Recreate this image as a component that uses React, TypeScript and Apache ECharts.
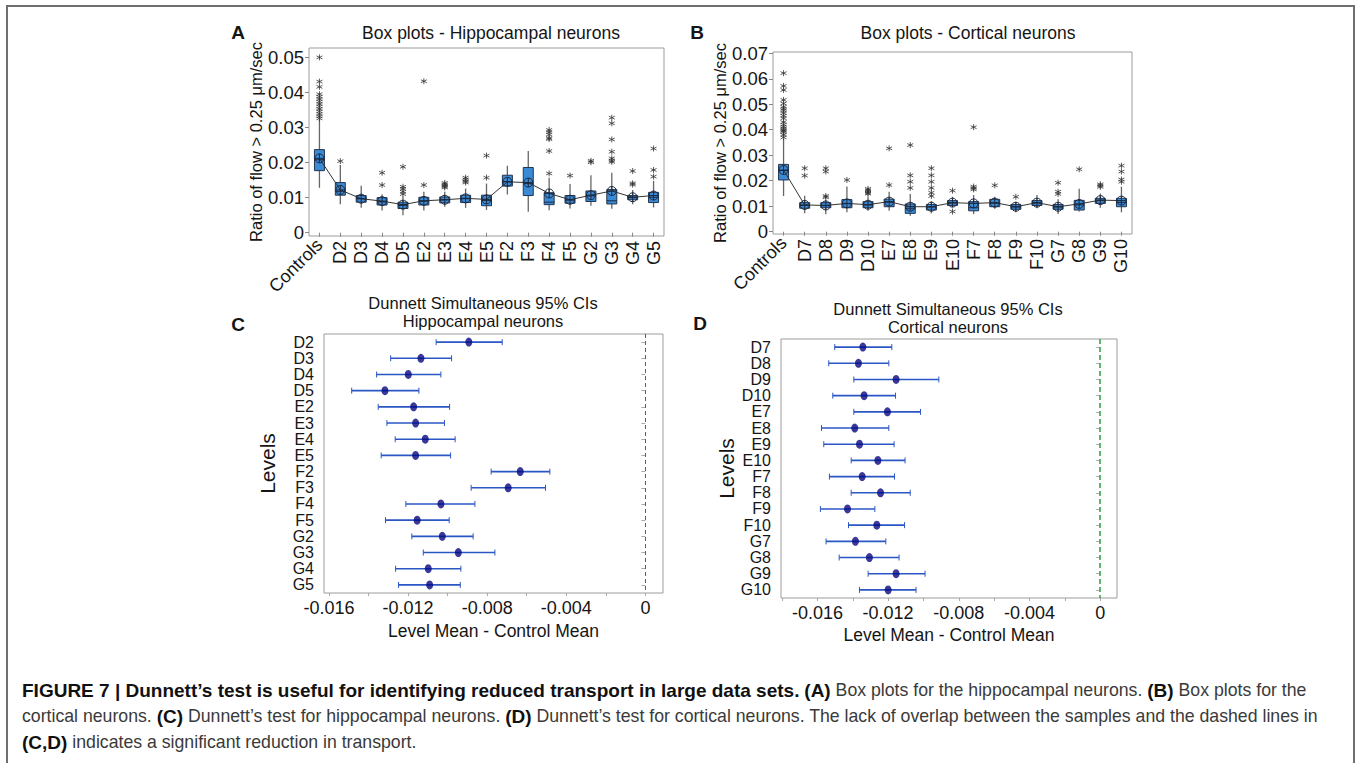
import React, { useEffect, useRef } from 'react';
import * as echarts from 'echarts';

// ---------- Panel A: hippocampal box plots ----------
const catsA = ['Controls', 'D2', 'D3', 'D4', 'D5', 'E2', 'E3', 'E4', 'E5', 'F2', 'F3', 'F4', 'F5', 'G2', 'G3', 'G4', 'G5'];
// [min, q1, median, q3, max]
const statsA = [
  [0.0128, 0.0177, 0.0208, 0.0237, 0.0322],
  [0.0081, 0.0107, 0.0118, 0.0143, 0.0193],
  [0.0071, 0.0087, 0.0097, 0.0106, 0.0134],
  [0.0063, 0.0079, 0.0088, 0.0100, 0.0110],
  [0.0050, 0.0069, 0.0078, 0.0087, 0.0103],
  [0.0063, 0.0079, 0.0090, 0.0101, 0.0117],
  [0.0074, 0.0085, 0.0094, 0.0102, 0.0117],
  [0.0071, 0.0086, 0.0097, 0.0107, 0.0126],
  [0.0065, 0.0077, 0.0092, 0.0107, 0.0140],
  [0.0109, 0.0133, 0.0146, 0.0164, 0.0191],
  [0.0060, 0.0106, 0.0140, 0.0186, 0.0233],
  [0.0064, 0.0080, 0.0087, 0.0114, 0.0157],
  [0.0069, 0.0084, 0.0093, 0.0106, 0.0139],
  [0.0077, 0.0089, 0.0105, 0.0119, 0.0164],
  [0.0068, 0.0082, 0.0091, 0.0123, 0.0171],
  [0.0081, 0.0094, 0.0100, 0.0106, 0.0122],
  [0.0072, 0.0086, 0.0101, 0.0115, 0.0148],
];
const meansA = [0.0212, 0.0122, 0.0097, 0.0090, 0.0080, 0.0091, 0.0094, 0.0098, 0.0095, 0.0145, 0.0143, 0.0112, 0.0094, 0.0107, 0.0119, 0.0101, 0.0106];
const outliersA = [
  [0.050, 0.0431, 0.0416, 0.0395, 0.0388, 0.0381, 0.0374, 0.0367, 0.036, 0.0353, 0.0346, 0.0339, 0.0332, 0.0326],
  [0.0204],
  [],
  [0.0171, 0.0136],
  [0.0188, 0.0131, 0.0125, 0.0117, 0.011],
  [0.0432, 0.0136],
  [0.0142, 0.0138, 0.0135, 0.0132, 0.0129],
  [0.0157, 0.0152, 0.0147, 0.0143],
  [0.022, 0.0157],
  [],
  [],
  [0.0293, 0.0287, 0.028, 0.027, 0.0267, 0.0233, 0.0169],
  [0.0163],
  [0.0205, 0.0201],
  [0.0328, 0.0312, 0.0266, 0.0231, 0.0212, 0.0206, 0.0202],
  [0.0176, 0.0141, 0.0137],
  [0.024, 0.0179, 0.016],
];
const ticksA = [0, 0.01, 0.02, 0.03, 0.04, 0.05];

// ---------- Panel B: cortical box plots ----------
const catsB = ['Controls', 'D7', 'D8', 'D9', 'D10', 'E7', 'E8', 'E9', 'E10', 'F7', 'F8', 'F9', 'F10', 'G7', 'G8', 'G9', 'G10'];
const statsB = [
  [0.0140, 0.0203, 0.0240, 0.0264, 0.0363],
  [0.0072, 0.0092, 0.0103, 0.0114, 0.0141],
  [0.0068, 0.0094, 0.0102, 0.0114, 0.0124],
  [0.0076, 0.0094, 0.0110, 0.0126, 0.0177],
  [0.0082, 0.0094, 0.0105, 0.0118, 0.0137],
  [0.0082, 0.0098, 0.0116, 0.0128, 0.0157],
  [0.0063, 0.0072, 0.0090, 0.0109, 0.0148],
  [0.0072, 0.0085, 0.0097, 0.0107, 0.0120],
  [0.0098, 0.0103, 0.0113, 0.0122, 0.0137],
  [0.0069, 0.0082, 0.0094, 0.0118, 0.0144],
  [0.0090, 0.0098, 0.0112, 0.0127, 0.0137],
  [0.0076, 0.0088, 0.0097, 0.0107, 0.0118],
  [0.0092, 0.0103, 0.0113, 0.0122, 0.0144],
  [0.0069, 0.0088, 0.0097, 0.0107, 0.0127],
  [0.0079, 0.0085, 0.0105, 0.0123, 0.0169],
  [0.0094, 0.0111, 0.0122, 0.0131, 0.0150],
  [0.0076, 0.0098, 0.0115, 0.0131, 0.0177],
];
const meansB = [0.0242, 0.0105, 0.0103, 0.0111, 0.0106, 0.0118, 0.0098, 0.0098, 0.0114, 0.0111, 0.0114, 0.0098, 0.0114, 0.0098, 0.0109, 0.0124, 0.0122];
const outliersB = [
  [0.0622, 0.0572, 0.0556, 0.0517, 0.0503, 0.049, 0.0482, 0.0475, 0.0465, 0.0455, 0.0445, 0.043, 0.042, 0.0412, 0.0405, 0.04, 0.0395, 0.039, 0.038, 0.037],
  [0.0249, 0.022],
  [0.0249, 0.0236, 0.014, 0.0135],
  [0.0203],
  [0.0168, 0.0163, 0.0158, 0.0153, 0.0149],
  [0.0327, 0.0183],
  [0.034, 0.0221, 0.0196, 0.0172],
  [0.0249, 0.0221, 0.0196, 0.0172, 0.0153, 0.014],
  [0.0161, 0.0079],
  [0.041, 0.0177, 0.0171, 0.0166],
  [0.0182],
  [0.0137],
  [],
  [0.0192, 0.0157, 0.0148],
  [0.0245],
  [0.0186, 0.0181, 0.0176],
  [0.0259, 0.0236, 0.0205, 0.0196],
];
const ticksB = [0, 0.01, 0.02, 0.03, 0.04, 0.05, 0.06, 0.07];

// ---------- Panel C: Dunnett hippocampal ----------
const levelsC = ['D2', 'D3', 'D4', 'D5', 'E2', 'E3', 'E4', 'E5', 'F2', 'F3', 'F4', 'F5', 'G2', 'G3', 'G4', 'G5'];
const meanC = [-0.00893, -0.01135, -0.01199, -0.01317, -0.01172, -0.01162, -0.01113, -0.01162, -0.00633, -0.00694, -0.01034, -0.01154, -0.01027, -0.00946, -0.01098, -0.01091];
const lowC = [-0.01058, -0.01288, -0.01359, -0.01485, -0.01351, -0.01307, -0.01265, -0.01336, -0.0078, -0.00881, -0.01211, -0.01314, -0.01181, -0.01123, -0.01263, -0.01248];
const highC = [-0.00724, -0.0098, -0.01034, -0.01145, -0.0099, -0.01016, -0.00962, -0.00985, -0.00483, -0.00505, -0.00862, -0.00992, -0.00871, -0.00761, -0.00933, -0.00936];

// ---------- Panel D: Dunnett cortical ----------
const levelsD = ['D7', 'D8', 'D9', 'D10', 'E7', 'E8', 'E9', 'E10', 'F7', 'F8', 'F9', 'F10', 'G7', 'G8', 'G9', 'G10'];
const meanD = [-0.01343, -0.01368, -0.01155, -0.01336, -0.01204, -0.01389, -0.01362, -0.01258, -0.01347, -0.01243, -0.0143, -0.01264, -0.01385, -0.01306, -0.01155, -0.012];
const lowD = [-0.01502, -0.01536, -0.01394, -0.01513, -0.01394, -0.01577, -0.01564, -0.01409, -0.01532, -0.01409, -0.01583, -0.01424, -0.01551, -0.01477, -0.01313, -0.01362];
const highD = [-0.01179, -0.01196, -0.00913, -0.01158, -0.01017, -0.01196, -0.01166, -0.01104, -0.01164, -0.01075, -0.01275, -0.01107, -0.01213, -0.01138, -0.00991, -0.01042];

const dunnettLabels = [-0.016, -0.012, -0.008, -0.004, 0];
const dunnettTicks = [-0.018, -0.016, -0.014, -0.012, -0.01, -0.008, -0.006, -0.004, -0.002, 0];

const FONT = '"Liberation Sans", Arial, Helvetica, sans-serif';
const TXT = '#151515';
const MEAN_SYMBOL = 'path://M-10,0A10,10,0,1,0,10,0A10,10,0,1,0,-10,0ZM-10,0L10,0M0,-10L0,10';
const STAR_SYMBOL = 'path://M0,-10L0,10M-8.66,-5L8.66,5M-8.66,5L8.66,-5';

function boxRender(_params: any, api: any) {
  const x = api.value(0);
  const lo = api.coord([x, api.value(1)]);
  const q1 = api.coord([x, api.value(2)]);
  const md = api.coord([x, api.value(3)]);
  const q3 = api.coord([x, api.value(4)]);
  const hi = api.coord([x, api.value(5)]);
  const w = 10;
  return {
    type: 'group',
    children: [
      { type: 'line', shape: { x1: lo[0], y1: lo[1], x2: hi[0], y2: hi[1] }, style: { stroke: '#666', lineWidth: 1.3 } },
      { type: 'rect', shape: { x: q3[0] - w / 2, y: q3[1], width: w, height: q1[1] - q3[1] }, style: { fill: '#3b8ad6', stroke: '#22344f', lineWidth: 1 } },
      { type: 'line', shape: { x1: md[0] - w / 2, y1: md[1], x2: md[0] + w / 2, y2: md[1] }, style: { stroke: '#1b2a42', lineWidth: 1 } },
    ],
  };
}

function ciRender(_params: any, api: any) {
  const yv = api.value(1);
  const a = api.coord([api.value(0), yv]);
  const b = api.coord([api.value(2), yv]);
  const c = 3;
  const st = { stroke: '#2b57c4', lineWidth: 1.6 };
  return {
    type: 'group',
    children: [
      { type: 'line', shape: { x1: a[0], y1: a[1], x2: b[0], y2: b[1] }, style: st },
      { type: 'line', shape: { x1: a[0], y1: a[1] - c, x2: a[0], y2: a[1] + c }, style: { stroke: '#2b57c4', lineWidth: 1 } },
      { type: 'line', shape: { x1: b[0], y1: b[1] - c, x2: b[0], y2: b[1] + c }, style: { stroke: '#2b57c4', lineWidth: 1 } },
    ],
  };
}

const fmt2 = (v: number) => (Math.abs(v) < 1e-9 ? '0' : v.toFixed(2));
const fmt3 = (v: number) => (Math.abs(v) < 1e-9 ? '0' : v.toFixed(3));

function catXAxis(grid: number, data: string[], overlay: boolean) {
  return {
    type: 'category',
    gridIndex: grid,
    data,
    position: 'bottom',
    boundaryGap: true,
    axisLine: { show: false },
    axisTick: overlay ? { show: false } : { show: true, alignWithLabel: true, length: 4, lineStyle: { color: '#888' } },
    splitLine: { show: false },
    axisLabel: {
      interval: 0,
      rotate: overlay ? 45 : 90,
      fontSize: 18,
      fontFamily: FONT,
      color: TXT,
      margin: overlay ? 6 : 5,
      formatter: overlay ? (v: string) => (v === 'Controls' ? v : '') : (v: string) => (v === 'Controls' ? '' : v),
    },
  };
}

function valYAxis(grid: number, min: number, max: number, ticks: number[], gap: number) {
  return {
    type: 'value',
    gridIndex: grid,
    min,
    max,
    axisLine: { show: false },
    splitLine: { show: false },
    axisTick: { show: true, customValues: ticks, length: 4, lineStyle: { color: '#888' } },
    axisLabel: { customValues: ticks, formatter: fmt2, fontSize: 18.5, fontFamily: FONT, color: TXT, margin: 5 },
    name: 'Ratio of flow > 0.25 μm/sec',
    nameLocation: 'middle',
    nameGap: gap,
    nameTextStyle: { fontSize: 16.5, fontFamily: FONT, color: TXT },
  };
}

function dunnettXAxis(grid: number, min: number, max: number, gap: number) {
  return {
    type: 'value',
    gridIndex: grid,
    min,
    max,
    axisLine: { show: false },
    splitLine: { show: false },
    axisTick: { show: true, customValues: dunnettTicks.filter((t) => t >= min), length: 3, lineStyle: { color: '#aaa' } },
    axisLabel: { customValues: dunnettLabels, formatter: fmt3, fontSize: 18, fontFamily: FONT, color: TXT, margin: 6 },
    name: 'Level Mean - Control Mean',
    nameLocation: 'middle',
    nameGap: gap,
    nameTextStyle: { fontSize: 17.5, fontFamily: FONT, color: TXT },
  };
}

function levelsYAxis(grid: number, data: string[], gap: number) {
  return {
    type: 'category',
    gridIndex: grid,
    data,
    inverse: true,
    boundaryGap: true,
    axisLine: { show: false },
    axisTick: { show: true, alignWithLabel: true, length: 4, lineStyle: { color: '#aaa' } },
    splitLine: { show: false },
    axisLabel: { interval: 0, fontSize: 16, lineHeight: 16, fontFamily: FONT, color: TXT, margin: 10 },
    name: 'Levels',
    nameLocation: 'middle',
    nameGap: gap,
    nameTextStyle: { fontSize: 21, fontFamily: FONT, color: TXT },
  };
}

function boxSeries(xi: number, yi: number, stats: number[][], means: number[], outs: number[][]) {
  return [
    {
      type: 'custom',
      xAxisIndex: xi,
      yAxisIndex: yi,
      renderItem: boxRender,
      encode: { x: 0, y: [1, 2, 3, 4, 5] },
      data: stats.map((s, i) => [i, ...s]),
      z: 2,
      silent: true,
    },
    {
      type: 'line',
      xAxisIndex: xi,
      yAxisIndex: yi,
      data: means,
      symbol: MEAN_SYMBOL,
      symbolSize: 9,
      showSymbol: true,
      lineStyle: { color: '#333', width: 1 },
      itemStyle: { color: 'rgba(0,0,0,0)', borderColor: '#1b2a42', borderWidth: 1 },
      z: 3,
      silent: true,
    },
    {
      type: 'scatter',
      xAxisIndex: xi,
      yAxisIndex: yi,
      data: outs.flatMap((arr, i) => arr.map((v) => [i, v])),
      symbol: STAR_SYMBOL,
      symbolSize: 6,
      itemStyle: { color: 'rgba(0,0,0,0)', borderColor: '#333', borderWidth: 1 },
      z: 3,
      silent: true,
    },
  ];
}

function ciSeries(xi: number, yi: number, mean: number[], low: number[], high: number[], lineColor: string, lw: number, dash: number[]) {
  return [
    {
      type: 'custom',
      xAxisIndex: xi,
      yAxisIndex: yi,
      renderItem: ciRender,
      encode: { x: [0, 2], y: 1 },
      data: low.map((l, i) => [l, i, high[i]]),
      z: 2,
      silent: true,
    },
    {
      type: 'scatter',
      xAxisIndex: xi,
      yAxisIndex: yi,
      data: mean.map((m, i) => [m, i]),
      symbol: 'circle',
      symbolSize: [7, 9],
      itemStyle: { color: '#06077f' },
      z: 3,
      silent: true,
      markLine: {
        silent: true,
        symbol: ['none', 'none'],
        label: { show: false },
        lineStyle: { color: lineColor, width: lw, type: dash },
        data: [{ xAxis: 0 }],
      },
    },
  ];
}

export default function App() {
  const ref = useRef<HTMLDivElement>(null);

  useEffect(() => {
    if (!ref.current) return;
    const chart = echarts.init(ref.current, undefined, { renderer: 'svg' });
    const gridBorder = { show: true, borderColor: '#9c9c9c', borderWidth: 1, backgroundColor: 'transparent' };

    const txt = (x: number, y: number, text: string, size: number, bold = false, align = 'center') => ({
      type: 'text',
      x,
      y,
      silent: true,
      style: {
        text,
        fill: TXT,
        fontSize: size,
        fontFamily: FONT,
        fontWeight: bold ? 'bold' : 'normal',
        textAlign: align,
        textVerticalAlign: 'middle',
      },
    });

    const CAP_FONT = '"Liberation Sans", Arial, sans-serif';
    const capRich = {
      b: { fontFamily: CAP_FONT, fontWeight: 'bold', fontSize: 19, fill: '#111', color: '#111' },
      r: { fontFamily: CAP_FONT, fontWeight: 'normal', fontSize: 17.7, fill: '#3a3a3a', color: '#3a3a3a' },
    };
    const capLine = (y: number, text: string) => ({
      type: 'text',
      x: 22,
      y,
      silent: true,
      style: { text, rich: capRich, textAlign: 'left', textVerticalAlign: 'middle', fontFamily: CAP_FONT, fontSize: 17.7 },
    });

    const option: any = {
      animation: false,
      backgroundColor: '#ffffff',
      textStyle: { fontFamily: FONT },
      grid: [
        { left: 309, top: 48, width: 355, height: 188, ...gridBorder },
        { left: 773, top: 52, width: 359, height: 182, ...gridBorder },
        { left: 324, top: 334, width: 339, height: 259, ...gridBorder },
        { left: 781, top: 339, width: 336, height: 259, ...gridBorder },
      ],
      xAxis: [
        catXAxis(0, catsA, false),
        catXAxis(0, catsA, true),
        catXAxis(1, catsB, false),
        catXAxis(1, catsB, true),
        dunnettXAxis(2, -0.01625, 0.00089, 29),
        dunnettXAxis(3, -0.01806, 0.00095, 28),
      ],
      yAxis: [
        valYAxis(0, -0.00094, 0.05268, ticksA, 39),
        valYAxis(1, -0.0009, 0.0705, ticksB, 45),
        levelsYAxis(2, levelsC, 46),
        levelsYAxis(3, levelsD, 40),
      ],
      series: [
        ...boxSeries(0, 0, statsA, meansA, outliersA),
        ...boxSeries(2, 1, statsB, meansB, outliersB),
        ...ciSeries(4, 2, meanC, lowC, highC, '#2f7d3a', 1, [4, 3]),
        ...ciSeries(5, 3, meanD, lowD, highD, '#3ea346', 1.6, [5, 3]),
      ],
      graphic: [
        {
          type: 'rect',
          silent: true,
          shape: { x: 7, y: 6, width: 1347, height: 820 },
          style: { fill: 'none', stroke: '#6f6f6f', lineWidth: 2 },
        },
        txt(238, 32, 'A', 19, true),
        txt(697, 32, 'B', 19, true),
        txt(238, 324, 'C', 19, true),
        txt(700, 323, 'D', 19, true),
        txt(491, 33, 'Box plots - Hippocampal neurons', 17.5),
        txt(968, 33, 'Box plots - Cortical neurons', 17.5),
        txt(483, 303, 'Dunnett Simultaneous 95% CIs', 16.5),
        txt(483, 321, 'Hippocampal neurons', 16.5),
        txt(948, 309, 'Dunnett Simultaneous 95% CIs', 16.5),
        txt(948, 327, 'Cortical neurons', 16.5),
        capLine(690, '{b|FIGURE 7 | Dunnett’s test is useful for identifying reduced transport in large data sets.}{r| }{b|(A)}{r| Box plots for the hippocampal neurons. }{b|(B)}{r| Box plots for the}'),
        capLine(716, '{r|cortical neurons. }{b|(C)}{r| Dunnett’s test for hippocampal neurons. }{b|(D)}{r| Dunnett’s test for cortical neurons. The lack of overlap between the samples and the dashed lines in}'),
        capLine(742, '{b|(C,D)}{r| indicates a significant reduction in transport.}'),
      ],
    };

    chart.setOption(option);
    return () => chart.dispose();
  }, []);

  return <div ref={ref} style={{ position: 'absolute', left: 0, top: 0, width: 1358, height: 763 }} />;
}
